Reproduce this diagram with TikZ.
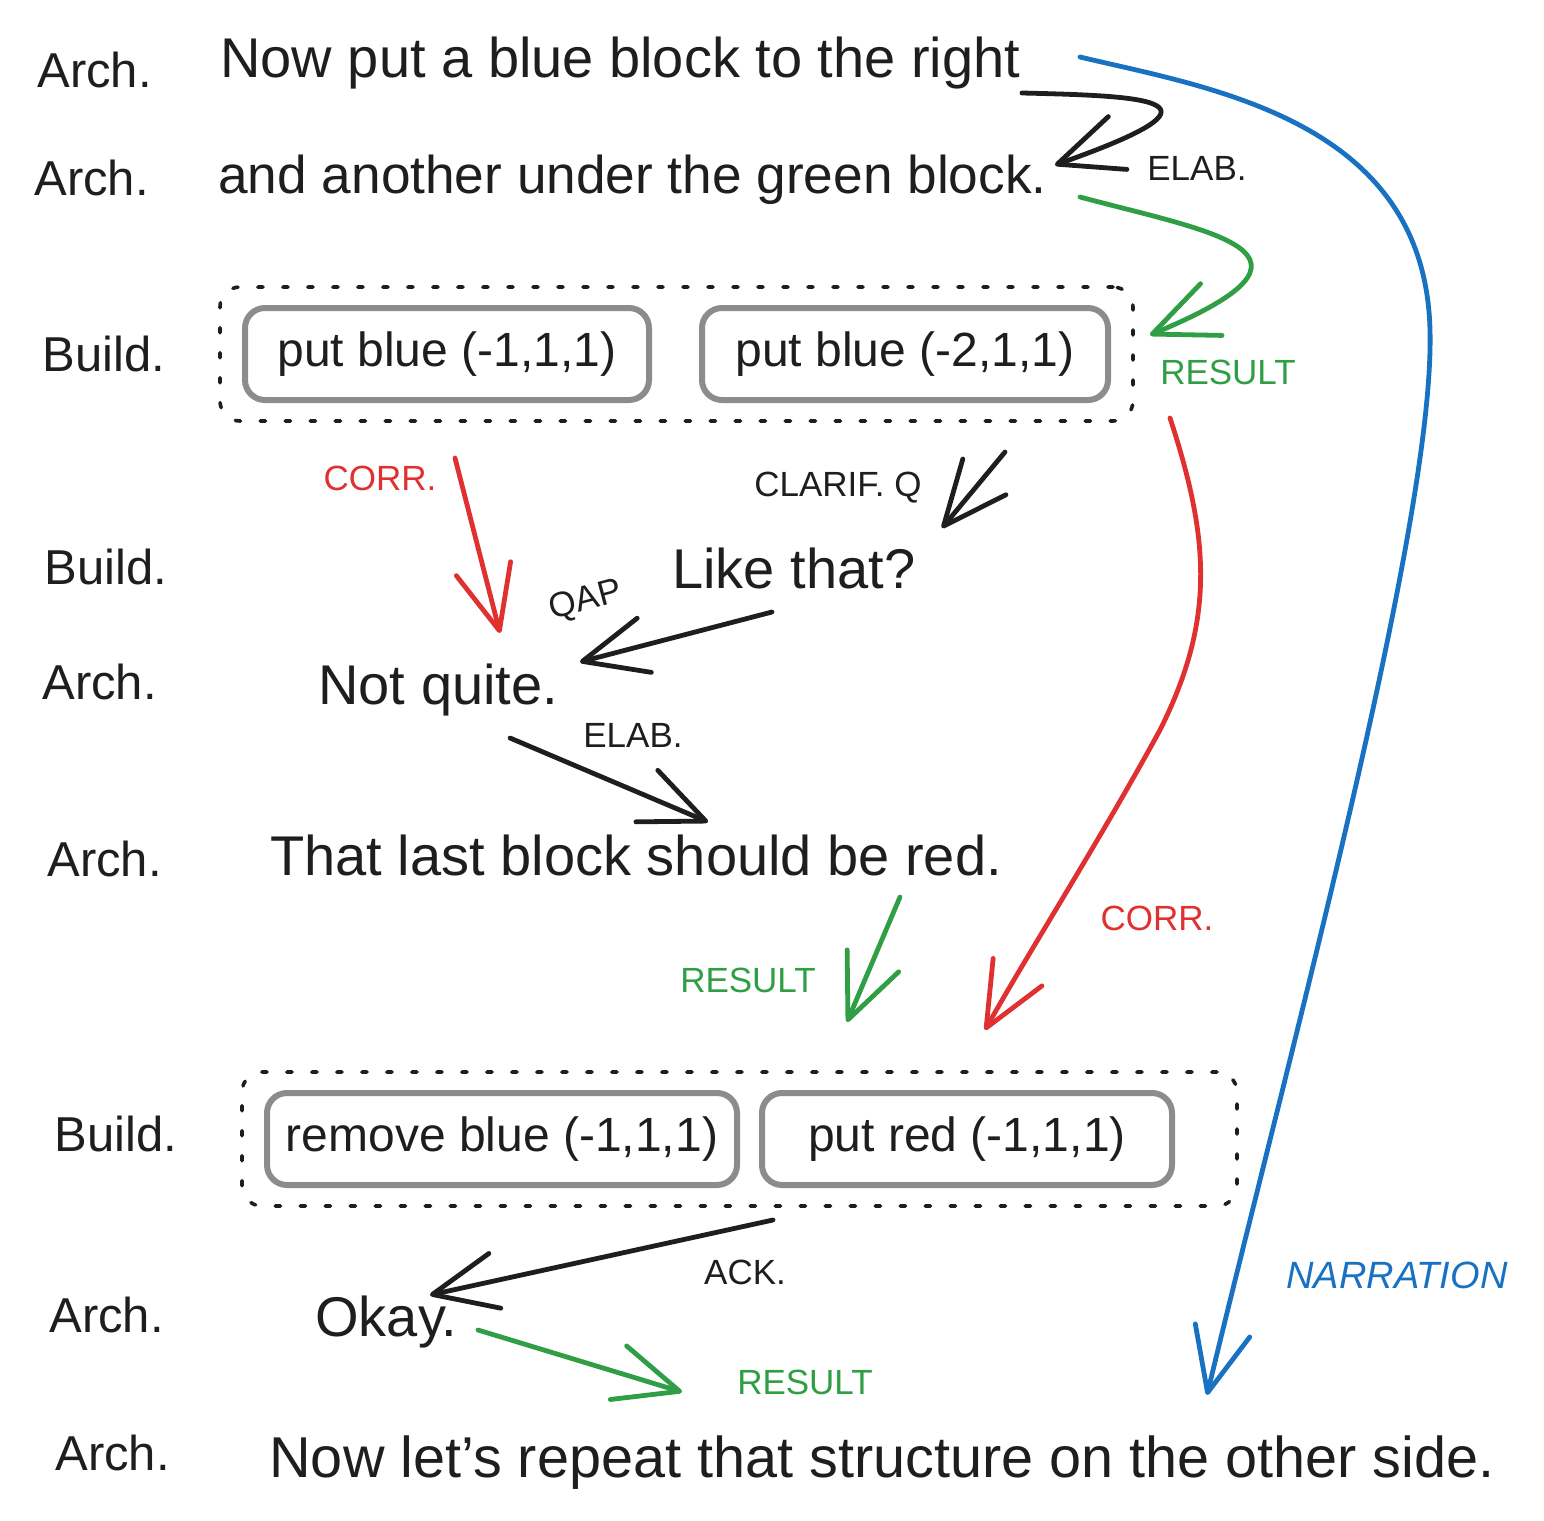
\documentclass[tikz,border=0pt]{standalone}
\usepackage{fontspec}
\setmainfont{Liberation Sans}
\usetikzlibrary{arrows.meta, positioning, fit}

\definecolor{ink}{HTML}{1E1E1E}
\definecolor{resgreen}{HTML}{2F9E44}
\definecolor{corrred}{HTML}{E03131}
\definecolor{narrblue}{HTML}{1971C2}
\definecolor{boxgray}{HTML}{8C8C8C}

\begin{document}
\begin{tikzpicture}[x = 0.5pt, y = -0.5pt, % one unit = one pixel, y goes down
                > = {Straight Barb[length = 32pt, width = 28pt, round]}, % open arrow head
                line width = 2.4pt, line cap = round, line join = round
            ]

            \tikzset{
              spk/.style = {anchor = base west, inner sep = 0pt, text = ink,
                font = \fontsize{24.5}{28}\selectfont},
              utt/.style = {anchor = base west, inner sep = 0pt, text = ink,
                font = \fontsize{28}{32}\selectfont},
              act/.style = {draw = boxgray, line width = 3pt, rounded corners = 10pt,
                text = ink, minimum height = 46pt, inner sep = 0pt,
                font = \fontsize{24}{28}\selectfont},
              grp/.style = {draw = ink, line width = 1.8pt,
                dash pattern = on 2.6pt off 9.9pt, rounded corners = 10pt,
                inner xsep = 11pt, inner ysep = 9pt},
              rel/.style = {inner sep = 0pt, font = \fontsize{17.5}{20}\selectfont},
              plain/.style = {color = ink},
              res/.style = {color = resgreen},
              corr/.style = {color = corrred},
              narr/.style = {color = narrblue}
            }

            \useasboundingbox (0,0) rectangle (1544,1521);

            % who speaks
            \node[spk] (s1) at (35,87) {Arch.};
            \node[spk] (s2) at (32,195) {Arch.};
            \node[spk] (s3) at (40,371) {Build.};
            \node[spk] (s4) at (42,584) {Build.};
            \node[spk] (s5) at (40,699) {Arch.};
            \node[spk] (s6) at (45,876) {Arch.};
            \node[spk] (s7) at (52,1151) {Build.};
            \node[spk] (s8) at (47,1332) {Arch.};
            \node[spk] (s9) at (53,1470) {Arch.};

            % what is said
            \node[utt] (u1) at (218,77) {Now put a blue block to the right};
            \node[utt, font = \fontsize{26.6}{30}\selectfont] (u2) at (216,193)
              {and another under the green block.};
            \node[utt] (u3) at (670,588) {Like that?};
            \node[utt] (u4) at (316,704) {Not quite.};
            \node[utt] (u5) at (268,875) {That last block should be red.};
            \node[utt] (u6) at (313,1336) {Okay.};
            \node[utt, font = \fontsize{28.8}{32}\selectfont] (u7) at (267,1477)
              {Now let's repeat that structure on the other side.};

            % builder actions
            \node[act, minimum width = 202pt] (b1) at (447,354) {put blue (-1,1,1)};
            \node[act, minimum width = 203pt, right = 23.5pt of b1] (b2) {put blue (-2,1,1)};
            \node[act, minimum width = 235pt] (b3) at (502,1139) {remove blue (-1,1,1)};
            \node[act, minimum width = 205pt, right = 9.5pt of b3] (b4) {put red (-1,1,1)};
            \coordinate (g2e) at (1215,1134);
            \node[grp, fit = (b1)(b2)] (g1) {};
            \node[grp, fit = (b3)(b4)(g2e)] (g2) {};

            % arrow ends
            \coordinate (e1s) at (1022,93); \coordinate (e1t) at (1055,165);
            \coordinate (r1s) at (1080,197); \coordinate (r1t) at (1150,335);
            \coordinate (n1s) at (1080,57); \coordinate (n1m) at (1430,330);
            \coordinate (n1t) at (1207,1395);
            \coordinate (c1s) at (455,458); \coordinate (c1t) at (500,633);
            \coordinate (q1s) at (1005,452); \coordinate (q1t) at (942,528);
            \coordinate (a1s) at (772,612); \coordinate (a1t) at (580,662);
            \coordinate (e2s) at (510,738); \coordinate (e2t) at (708,822);
            \coordinate (r2s) at (900,897); \coordinate (r2t) at (847,1022);
            \coordinate (c2s) at (1170,418); \coordinate (c2m) at (1160,730);
            \coordinate (c2t) at (985,1030);
            \coordinate (k1s) at (773,1220); \coordinate (k1t) at (430,1295);
            \coordinate (r3s) at (478,1330); \coordinate (r3t) at (682,1392);

            \draw[->, plain] (e1s) .. controls (1150,96) and (1240,100) .. (e1t);
            \draw[->, res] (r1s) .. controls (1210,232) and (1350,252) .. (r1t);
            \draw[->, narr] (n1s) .. controls (1210,88) and (1425,120) .. (n1m)
              .. controls (1435,520) and (1290,1050) .. (n1t);
            \path[->, corr] (c1s) edge (c1t);
            \path[->, plain] (q1s) edge (q1t);
            \path[->, plain] (a1s) edge (a1t);
            \path[->, plain] (e2s) edge (e2t);
            \path[->, res] (r2s) edge (r2t);
            \draw[->, corr] (c2s) .. controls (1210,540) and (1215,620) .. (c2m)
              .. controls (1100,840) and (1030,950) .. (c2t);
            \path[->, plain] (k1s) edge (k1t);
            \path[->, res] (r3s) edge (r3t);

            % relation names
            \node[rel, text = ink] (l1) at (1197,168) {ELAB.};
            \node[rel, text = resgreen] (l2) at (1228,372) {RESULT};
            \node[rel, text = narrblue, font = \fontsize{19}{22}\selectfont\itshape]
              (l3) at (1397,1275) {NARRATION};
            \node[rel, text = corrred] (l4) at (380,478) {CORR.};
            \node[rel, text = ink] (l5) at (838,488) {CLARIF. Q};
            \node[rel, text = ink, rotate = 15] (l6) at (586,601) {QAP};
            \node[rel, text = ink] (l7) at (633,735) {ELAB.};
            \node[rel, text = resgreen] (l8) at (748,980) {RESULT};
            \node[rel, text = corrred] (l9) at (1157,918) {CORR.};
            \node[rel, text = ink] (l10) at (745,1272) {ACK.};
            \node[rel, text = resgreen] (l11) at (805,1382) {RESULT};
\end{tikzpicture}
\end{document}
